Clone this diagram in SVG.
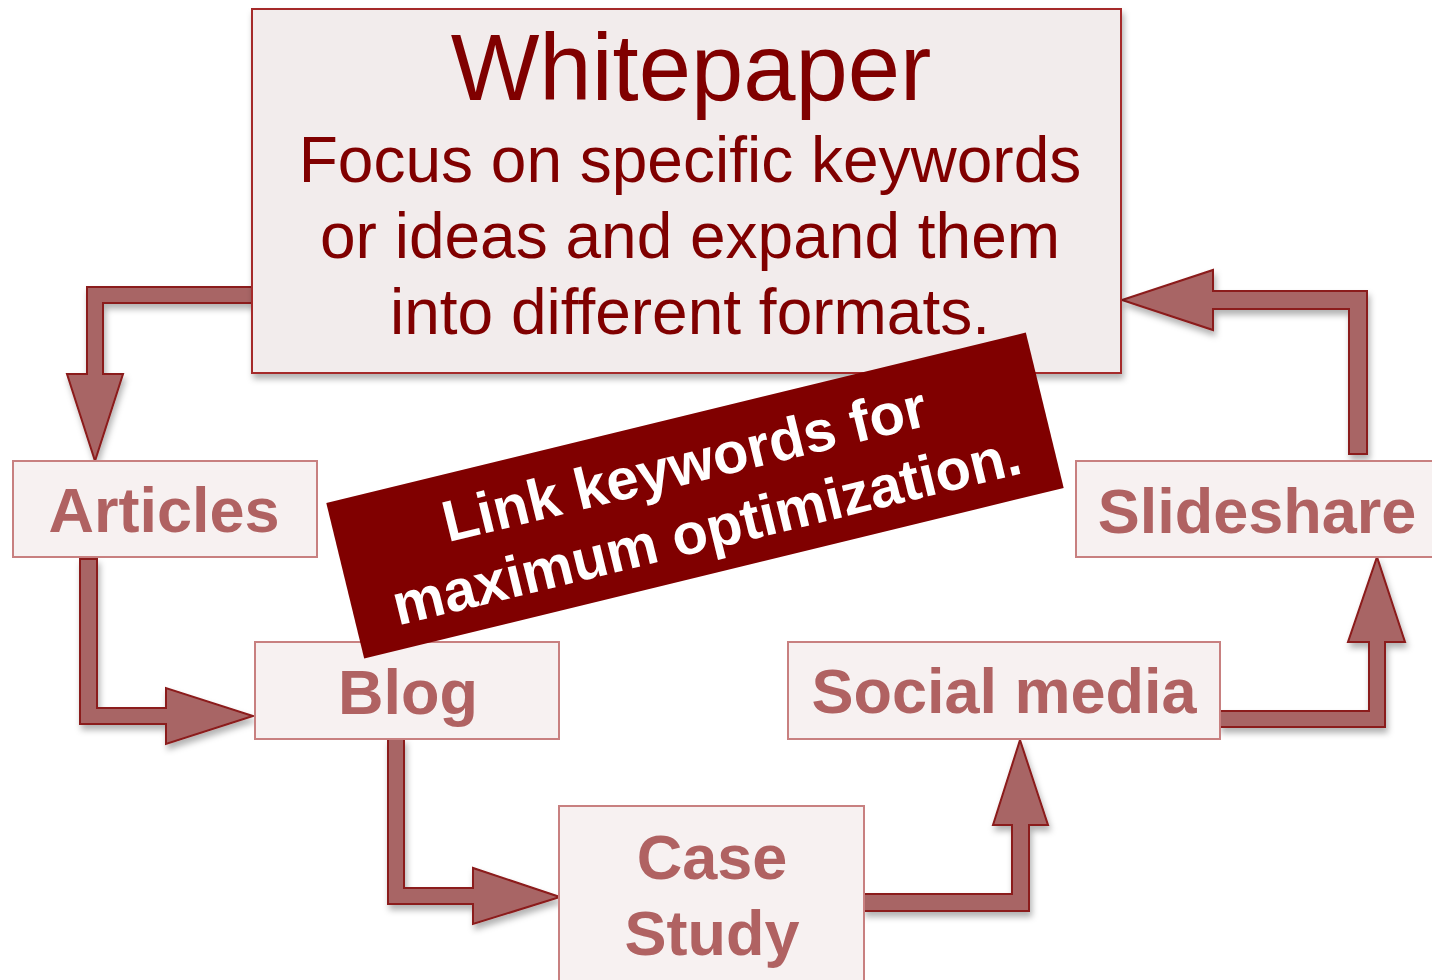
<svg xmlns="http://www.w3.org/2000/svg" width="1432" height="980" viewBox="0 0 1432 980">
<defs>
<filter id="sh" x="-20%" y="-20%" width="140%" height="140%">
<feDropShadow dx="2" dy="5" stdDeviation="3" flood-color="#000" flood-opacity="0.3"/>
</filter>
<style>
.arr{fill:#a86565;stroke:#8b1a1a;stroke-width:2;stroke-linejoin:miter;filter:url(#sh)}
.box{fill:#f7f1f1;stroke:#c88080;stroke-width:2}
.lbl{font-family:"Liberation Sans",Arial,sans-serif;font-weight:bold;font-size:63px;fill:#b06262;text-anchor:middle}
.wp{font-family:"Liberation Sans",Arial,sans-serif;fill:#800000;text-anchor:middle}
.ban{font-family:"Liberation Sans",Arial,sans-serif;font-weight:bold;font-size:58px;fill:#ffffff;text-anchor:middle}
</style>
</defs>
<rect width="1432" height="980" fill="#ffffff"/>
<g id="connectors">
<path class="arr" d="M252,287 L87,287 L87,374 L67,374 L95,461 L123,374 L103,374 L103,303 L252,303 Z"/>
<path class="arr" d="M80,559 L80,724 L166,724 L166,744 L253,716 L166,688 L166,708 L97,708 L97,559 Z"/>
<path class="arr" d="M388,739 L388,904 L473,904 L473,924 L560,897 L473,868 L473,888 L404,888 L404,739 Z"/>
<path class="arr" d="M864,894 L1012,894 L1012,825 L993,825 L1020,740 L1048,825 L1029,825 L1029,911 L864,911 Z"/>
<path class="arr" d="M1220,711 L1369,711 L1369,642 L1348,642 L1377,557 L1405,642 L1385,642 L1385,727 L1220,727 Z"/>
<path class="arr" d="M1349,454 L1349,309 L1213,309 L1213,330 L1122,300 L1213,270 L1213,291 L1367,291 L1367,454 Z"/>
</g>
<g id="whitepaper">
<rect x="252" y="9" width="869" height="364" fill="#f2ecec" stroke="#a52a2a" stroke-width="2" filter="url(#sh)"/>
<text class="wp" x="691" y="100" font-size="94">Whitepaper</text>
<text class="wp" x="690" y="182" font-size="64">Focus on specific keywords</text>
<text class="wp" x="690" y="258" font-size="64">or ideas and expand them</text>
<text class="wp" x="690" y="334" font-size="64">into different formats.</text>
</g>
<g id="articles">
<rect class="box" x="13" y="461" width="304" height="96"/>
<text class="lbl" x="164" y="532">Articles</text>
</g>
<g id="blog">
<rect class="box" x="255" y="642" width="304" height="97"/>
<text class="lbl" x="408" y="714">Blog</text>
</g>
<g id="casestudy">
<rect class="box" x="559" y="806" width="305" height="190"/>
<text class="lbl" x="712" y="879">Case</text>
<text class="lbl" x="712" y="955">Study</text>
</g>
<g id="socialmedia">
<rect class="box" x="788" y="642" width="432" height="97"/>
<text class="lbl" x="1004" y="713">Social media</text>
</g>
<g id="slideshare">
<rect class="box" x="1076" y="461" width="370" height="96"/>
<text class="lbl" x="1257" y="533" font-size="64">Slideshare</text>
</g>
<g id="banner" transform="translate(695,495.5) rotate(-13.7)">
<rect x="-360" y="-80" width="720" height="160" fill="#800000"/>
<text class="ban" x="-3" y="-13">Link keywords for</text>
<text class="ban" x="3" y="56">maximum optimization.</text>
</g>
</svg>
